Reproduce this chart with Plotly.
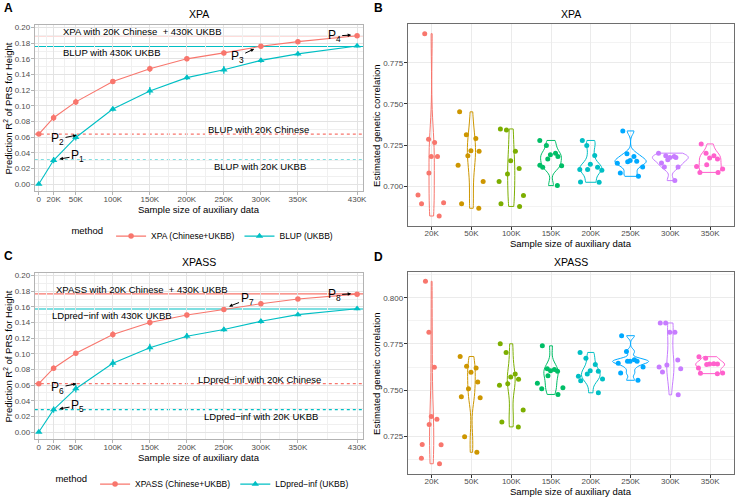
import numpy as np
import plotly.graph_objects as go

# ---------------- data ----------------
sizes_k = [0, 20, 50, 100, 150, 200, 250, 300, 350, 430]
size_ticks = [0, 20, 50, 100, 150, 200, 250, 300, 350, 430]
size_labels = ["0", "20K", "50K", "100K", "150K", "200K", "250K", "300K", "350K", "430K"]
size_minor = [10, 35, 75, 125, 175, 225, 275, 325, 390]

xpa_r2 = [0.0638, 0.0848, 0.1050, 0.1310, 0.1473, 0.1600, 0.1676, 0.1760, 0.1820, 0.1895]
xpa_err = [0.002, 0.0045, 0.004, 0.003, 0.004, 0.003, 0.003, 0.003, 0.003, 0.002]
blup_r2 = [0.0000, 0.0304, 0.0595, 0.0958, 0.1190, 0.1360, 0.1460, 0.1580, 0.1663, 0.1765]
blup_err = [0.001, 0.004, 0.004, 0.003, 0.005, 0.003, 0.005, 0.003, 0.003, 0.002]
xpa_full_line = 0.1895      # XPA with 20K Chinese + 430K UKBB
blup_full_line = 0.1758     # BLUP with 430K UKBB
blup_cn_line = 0.0638       # BLUP with 20K Chinese
blup_uk_line = 0.0304       # BLUP with 20K UKBB

xpass_r2 = [0.0618, 0.0816, 0.1006, 0.1247, 0.1400, 0.1495, 0.1567, 0.1640, 0.1700, 0.1762]
xpass_err = [0.002, 0.0035, 0.003, 0.004, 0.004, 0.003, 0.003, 0.003, 0.002, 0.002]
ldpred_r2 = [0.0000, 0.0285, 0.0554, 0.0880, 0.1078, 0.1225, 0.1310, 0.1415, 0.1500, 0.1576]
ldpred_err = [0.001, 0.004, 0.005, 0.005, 0.005, 0.004, 0.003, 0.003, 0.002, 0.002]
xpass_full_line = 0.1766
ldpred_full_line = 0.1572
ldpred_cn_line = 0.0618
ldpred_uk_line = 0.0285

cats = ["20K", "50K", "100K", "150K", "200K", "250K", "300K", "350K"]

rg_xpa = [
    [0.6819, 0.6893, 0.6899, 0.7181, 0.7265, 0.7286, 0.7181, 0.7080, 0.6946, 0.7927],
    [0.7452, 0.7290, 0.7312, 0.7028, 0.6893, 0.6866, 0.7213, 0.7215, 0.7185, 0.7127],
    [0.6877, 0.6944, 0.6893, 0.7107, 0.7213, 0.7155, 0.7074, 0.7028, 0.7348, 0.7342],
    [0.7278, 0.7181, 0.7127, 0.7125, 0.7115, 0.7191, 0.7201, 0.7165, 0.7247, 0.7004],
    [0.7187, 0.7115, 0.7026, 0.7024, 0.7133, 0.7278, 0.7247, 0.7101, 0.7101, 0.7097],
    [0.7117, 0.7197, 0.7139, 0.7060, 0.7080, 0.7149, 0.7181, 0.7151, 0.7157, 0.7336],
    [0.7201, 0.7175, 0.7185, 0.7181, 0.7161, 0.7141, 0.7117, 0.7117, 0.7034, 0.7175],
    [0.7257, 0.7201, 0.7185, 0.7165, 0.7171, 0.7131, 0.7120, 0.7105, 0.7084, 0.7084],
]
rg_xpass = [
    [0.8090, 0.7813, 0.7623, 0.7313, 0.7356, 0.7342, 0.7203, 0.7205, 0.7130, 0.7100],
    [0.7682, 0.7629, 0.7596, 0.7544, 0.7507, 0.7620, 0.7458, 0.7464, 0.7247, 0.7162],
    [0.7392, 0.7704, 0.7571, 0.7534, 0.7300, 0.7559, 0.7526, 0.7751, 0.7327, 0.7587],
    [0.7605, 0.7507, 0.7512, 0.7578, 0.7616, 0.7602, 0.7476, 0.7740, 0.7537, 0.7611],
    [0.7550, 0.7602, 0.7672, 0.7638, 0.7587, 0.7575, 0.7560, 0.7485, 0.7704, 0.7605],
    [0.7553, 0.7625, 0.7656, 0.7656, 0.7645, 0.7593, 0.7709, 0.7795, 0.7665, 0.7656],
    [0.7813, 0.7663, 0.7616, 0.7625, 0.7474, 0.7864, 0.7864, 0.7598, 0.7813, 0.7636],
    [0.7643, 0.7591, 0.7593, 0.7589, 0.7641, 0.7620, 0.7681, 0.7641, 0.7673, 0.7638],
]
rg_ticks_b = [0.700, 0.725, 0.750, 0.775]
rg_minor_b = [0.6875, 0.7125, 0.7375, 0.7625, 0.7875]
rg_ticks_d = [0.725, 0.750, 0.775, 0.800]
rg_minor_d = [0.7125, 0.7375, 0.7625, 0.7875, 0.8125]

# ---------------- styles ----------------
RED = "#F8766D"
TEAL = "#00BFC4"
HUE8 = ["#F8766D", "#CD9600", "#7CAE00", "#00BE67", "#00BFC4", "#00A9FF", "#C77CFF", "#FF61CC"]
FONT = "Liberation Sans, Arial, sans-serif"
W, H = 740, 499


def bw_nrd0(v):
    v = np.asarray(v, float)
    sd = v.std(ddof=1)
    q75, q25 = np.percentile(v, [75, 25])
    lo = min(sd, (q75 - q25) / 1.34)
    if lo <= 0:
        lo = sd if sd > 0 else 1.0
    return 0.9 * lo * len(v) ** -0.2


def px_x(p):
    return p / W


def px_y(p):
    return 1 - p / H


fig = go.Figure()

# ---------- line panels A (xaxis/yaxis) and C (xaxis3/yaxis3) ----------
def line_panel(xa, ya, legend, red_vals, red_err, red_name, teal_vals, teal_err, teal_name):
    fig.add_trace(go.Scatter(
        x=sizes_k, y=red_vals, xaxis=xa, yaxis=ya, mode="lines+markers",
        name=red_name, legend=legend,
        line=dict(color=RED, width=1.1),
        marker=dict(symbol="circle", size=5.5, color=RED),
        error_y=dict(type="data", array=red_err, width=0, thickness=1.3, color=RED),
    ))
    fig.add_trace(go.Scatter(
        x=sizes_k, y=teal_vals, xaxis=xa, yaxis=ya, mode="lines+markers",
        name=teal_name, legend=legend,
        line=dict(color=TEAL, width=1.1),
        marker=dict(symbol="triangle-up", size=6.5, color=TEAL),
        error_y=dict(type="data", array=teal_err, width=0, thickness=1.3, color=TEAL),
    ))


line_panel("x", "y", "legend", xpa_r2, xpa_err, "XPA (Chinese+UKBB)", blup_r2, blup_err, "BLUP (UKBB)")
line_panel("x3", "y3", "legend2", xpass_r2, xpass_err, "XPASS (Chinese+UKBB)", ldpred_r2, ldpred_err, "LDpred\u2212inf (UKBB)")

shapes = []
for xr, yr, vals in [("x domain", "y", [(xpa_full_line, RED, "solid"), (blup_full_line, TEAL, "solid"),
                                         (blup_cn_line, RED, "dot"), (blup_uk_line, TEAL, "dot")]),
                     ("x3 domain", "y3", [(xpass_full_line, RED, "solid"), (ldpred_full_line, TEAL, "solid"),
                                          (ldpred_cn_line, RED, "dot"), (ldpred_uk_line, TEAL, "dot")])]:
    for v, c, d in vals:
        shapes.append(dict(type="line", xref=xr, yref=yr, x0=0, x1=1, y0=v, y1=v,
                           line=dict(color=c, width=1.3 if d == "dot" else 1.1, dash=d), layer="below"))

# ---------- violin panels B (x2/y2) and D (x4/y4) ----------
def violin_panel(xa, ya, group, data):
    for i, (cat, vals) in enumerate(zip(cats, data)):
        fig.add_trace(go.Violin(
            x=[cat] * len(vals), y=vals, xaxis=xa, yaxis=ya, name=cat,
            line=dict(color=HUE8[i], width=1), fillcolor="rgba(255,255,255,0)",
            points="all", pointpos=0, jitter=0.9,
            marker=dict(color=HUE8[i], size=5),
            spanmode="hard", bandwidth=bw_nrd0(vals),
            scalemode="width", scalegroup=group,
            showlegend=False, hoverinfo="skip",
        ))


violin_panel("x2", "y2", "B", rg_xpa)
violin_panel("x4", "y4", "D", rg_xpass)

# ---------- axes ----------
A_X = [px_x(35), px_x(365)]
B_X = [px_x(410), px_x(738)]
A_Y = [px_y(192), px_y(24)]
C_Y = [px_y(442), px_y(274)]
B_Y = [px_y(226.7), px_y(23.3)]
D_Y = [px_y(476.7), px_y(273.3)]

tickfont = dict(family=FONT, size=8, color="#4D4D4D")
light_border = "#B3B3B3"
dark_border = "#6E6E6E"


def num_xaxis(domain, anchor):
    return dict(domain=domain, anchor=anchor, range=[-5.4, 438], tickmode="array",
                tickvals=size_ticks, ticktext=size_labels, showgrid=True, gridcolor="#E3E3E3",
                gridwidth=1, zeroline=False, showline=True, mirror=True, linecolor=light_border,
                linewidth=1, ticks="outside", ticklen=3, tickcolor=light_border, tickfont=tickfont,
                ticklabelstandoff=-3,
                minor=dict(tickmode="array", tickvals=size_minor, showgrid=True,
                           gridcolor="#F0F0F0", gridwidth=0.6, ticks=""))


def r2_yaxis(domain, anchor):
    return dict(domain=domain, anchor=anchor, range=[-0.0095, 0.2035], tickmode="array",
                tickvals=[0, 0.02, 0.04, 0.06, 0.08, 0.10, 0.12, 0.14, 0.16, 0.18, 0.20],
                tickformat=".2f", showgrid=True, gridcolor="#E3E3E3", gridwidth=1,
                zeroline=False, showline=True, mirror=True, linecolor=light_border, linewidth=1,
                ticks="outside", ticklen=3, tickcolor=light_border, tickfont=tickfont,
                ticklabelstandoff=-1,
                minor=dict(tick0=0.01, dtick=0.02, showgrid=True, gridcolor="#F0F0F0",
                           gridwidth=0.6, ticks=""))


def cat_xaxis(domain, anchor):
    return dict(domain=domain, anchor=anchor, type="category", categoryorder="array",
                categoryarray=cats, range=[-0.6, 7.6], autorange=False, showgrid=True,
                gridcolor="#EBEBEB", gridwidth=1, zeroline=False, showline=True, mirror=True,
                linecolor=dark_border, linewidth=1, ticks="outside", ticklen=3,
                tickcolor="#333333", tickfont=tickfont, ticklabelstandoff=-3)


def rg_yaxis(domain, anchor, rng, ticks, minor):
    return dict(domain=domain, anchor=anchor, range=rng, autorange=False, tickmode="array",
                tickvals=ticks, tickformat=".3f", showgrid=True, gridcolor="#EBEBEB", gridwidth=1,
                zeroline=False, showline=True, mirror=True, linecolor=dark_border, linewidth=1,
                ticks="outside", ticklen=3, tickcolor="#333333", tickfont=tickfont,
                ticklabelstandoff=-1,
                minor=dict(tickmode="array", tickvals=minor, showgrid=True,
                           gridcolor="#F3F3F3", gridwidth=0.6, ticks=""))


# ---------- annotations ----------
ann = []


def text(x, y, s, size=9.5, xref="paper", yref="paper", **kw):
    d = dict(x=x, y=y, xref=xref, yref=yref, text=s, showarrow=False,
             font=dict(family=FONT, size=size, color=kw.pop("color", "black")))
    d.update(kw)
    ann.append(d)


# panel letters
for lab, x, y in [("A", 2.5, 7.2), ("B", 374.5, 7.2), ("C", 2.5, 257.4), ("D", 374.5, 257.6)]:
    text(px_x(x), px_y(y), "<b>%s</b>" % lab, size=12, xanchor="left", yanchor="middle")
# panel titles
for s, x, y in [("XPA", 200, 13.3), ("XPA", 574, 13.3), ("XPASS", 200, 263.3), ("XPASS", 574, 263.3)]:
    text(px_x(x), px_y(y), s, size=10.5, xanchor="center", yanchor="middle")
# axis titles
for x, y in [(200, 210), (574, 244.5), (200, 460), (574, 494)]:
    text(px_x(x), px_y(y), "Sample size of auxiliary data", size=9.5, xanchor="center", yanchor="middle")
for y in [108, 358]:
    text(px_x(8.5), px_y(y), "Prediction R<sup>2</sup> of PRS for Height", size=9.5,
         textangle=-90, xanchor="center", yanchor="middle")
for y in [125, 375]:
    text(px_x(379), px_y(y), "Estimated genetic correlation", size=9.5,
         textangle=-90, xanchor="center", yanchor="middle")

# reference line labels
text(139.8, xpa_full_line, "XPA with 20K Chinese  + 430K UKBB", xref="x", yref="y", yanchor="bottom", yshift=-3)
text(99.5, blup_full_line, "BLUP with 430K UKBB", xref="x", yref="y", yanchor="top", yshift=1)
text(297, blup_cn_line, "BLUP with 20K Chinese", xref="x", yref="y", yanchor="bottom", yshift=-3)
text(299, blup_uk_line, "BLUP with 20K UKBB", xref="x", yref="y", yanchor="top", yshift=1)
text(139.8, xpass_full_line, "XPASS with 20K Chinese  + 430K UKBB", xref="x3", yref="y3", yanchor="bottom", yshift=-3)
text(99.5, ldpred_full_line, "LDpred\u2212inf with 430K UKBB", xref="x3", yref="y3", yanchor="top", yshift=1)
text(298, ldpred_cn_line, "LDpred\u2212inf with 20K Chinese", xref="x3", yref="y3", yanchor="bottom", yshift=-3)
text(300, ldpred_uk_line, "LDpred\u2212inf with 20K UKBB", xref="x3", yref="y3", yanchor="top", yshift=1)

# P arrows
for lab, xr, yr, x, y, ax, ay in [
    ("P<sub>1</sub>", "x", "y", 28, 0.032, 18, -3),
    ("P<sub>2</sub>", "x", "y", 51, 0.0625, -19, 4),
    ("P<sub>3</sub>", "x", "y", 291, 0.1727, -17, 8),
    ("P<sub>4</sub>", "x", "y", 422, 0.1904, -17, 1),
    ("P<sub>5</sub>", "x3", "y3", 28, 0.0297, 18, -3),
    ("P<sub>6</sub>", "x3", "y3", 51, 0.0618, -19, 4),
    ("P<sub>7</sub>", "x3", "y3", 257, 0.1605, 18, -7),
    ("P<sub>8</sub>", "x3", "y3", 422, 0.1766, -17, 1),
]:
    ann.append(dict(x=x, y=y, xref=xr, yref=yr, ax=ax, ay=ay, text=lab, showarrow=True,
                    arrowhead=2, arrowsize=0.7, arrowwidth=1, arrowcolor="black", standoff=0,
                    font=dict(family=FONT, size=12, color="black")))

legend_common = dict(orientation="h", xanchor="center", yanchor="middle",
                     font=dict(family=FONT, size=8.5, color="black"),
                     title=dict(text="method", side="left", font=dict(family=FONT, size=9.5)),
                     bgcolor="rgba(0,0,0,0)", itemwidth=30, tracegroupgap=0)

fig.update_layout(
    width=W, height=H, margin=dict(l=0, r=0, t=0, b=0),
    paper_bgcolor="white", plot_bgcolor="white",
    font=dict(family=FONT, size=9.5, color="black"),
    violinmode="overlay", violingap=0.1, violingroupgap=0,
    xaxis=num_xaxis(A_X, "y"), yaxis=r2_yaxis(A_Y, "x"),
    xaxis2=cat_xaxis(B_X, "y2"),
    yaxis2=rg_yaxis(B_Y, "x2", [0.6759, 0.7985], rg_ticks_b, rg_minor_b),
    xaxis3=num_xaxis(A_X, "y3"), yaxis3=r2_yaxis(C_Y, "x3"),
    xaxis4=cat_xaxis(B_X, "y4"),
    yaxis4=rg_yaxis(D_Y, "x4", [0.7045, 0.8140], rg_ticks_d, rg_minor_d),
    legend=dict(x=px_x(205), y=px_y(237), **legend_common),
    legend2=dict(x=px_x(205), y=px_y(487), **legend_common),
    shapes=shapes, annotations=ann, showlegend=True,
)

fig.write_html("out.html", config={"displayModeBar": False},
               post_script="document.body.style.margin='0';document.body.style.overflow='hidden';")
